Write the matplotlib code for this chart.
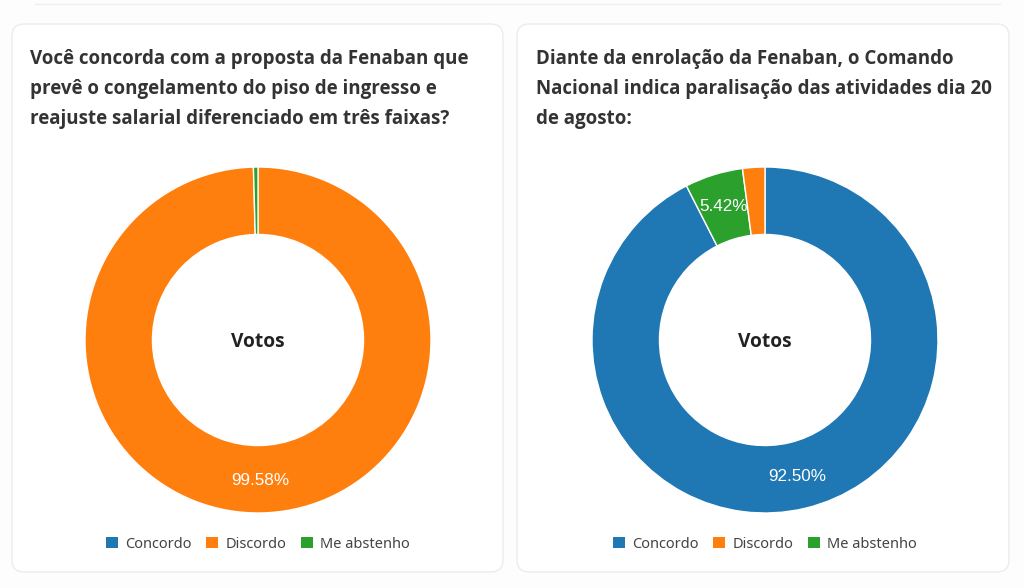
import matplotlib
matplotlib.use("Agg")
import matplotlib.pyplot as plt
from matplotlib.patches import FancyBboxPatch, Patch
from matplotlib import font_manager

W, H = 1024, 588

labels = ["Concordo", "Discordo", "Me abstenho"]
colors = ["#1f77b4", "#ff7f0e", "#2ca02c"]

# left chart: clockwise from top
left_title = ("Você concorda com a proposta da Fenaban que\n"
              "prevê o congelamento do piso de ingresso e\n"
              "reajuste salarial diferenciado em três faixas?")
left_vals = [0.0, 99.58, 0.42]          # Concordo, Discordo, Me abstenho
left_order = [0, 1, 2]

# right chart: slices drawn clockwise as Concordo, Me abstenho, Discordo
right_title = ("Diante da enrolação da Fenaban, o Comando\n"
               "Nacional indica paralisação das atividades dia 20\n"
               "de agosto:")
right_vals = [92.50, 2.08, 5.42]        # Concordo, Discordo, Me abstenho
right_order = [0, 2, 1]

# pick a sans family that really has a bold face
BOLD_FAM = "DejaVu Sans"
for fam in ["Noto Sans", "Open Sans", "Lato", "Roboto"]:
    try:
        f = font_manager.findfont(font_manager.FontProperties(family=fam, weight="bold"),
                                  fallback_to_default=False)
        if "bold" in f.lower() or "semibold" in f.lower():
            BOLD_FAM = fam
            break
    except Exception:
        pass

fig = plt.figure(figsize=(W / 100, H / 100), dpi=100)
fig.patch.set_facecolor("#fdfdfd")


def px(x, y):
    # pixel coords (top-left origin) -> figure fraction
    return x / W, 1 - y / H


def card(x0, y0, x1, y1):
    l, t = px(x0, y0)
    r, b = px(x1, y1)
    p = FancyBboxPatch((l, b), r - l, t - b,
                       boxstyle="round,pad=0,rounding_size=0.012",
                       transform=fig.transFigure, facecolor="white",
                       edgecolor="#ececec", linewidth=1.0,
                       mutation_aspect=W / H, zorder=-5)
    fig.patches.append(p)


def pct_fmt(v):
    return "%.2f%%" % v if v >= 3 else ""


def donut(cx, cy, vals, order, title, tx):
    R = 173
    l, b = px(cx - R, cy + R)
    ax = fig.add_axes([l, b, 2 * R / W, 2 * R / H], zorder=2)
    ax.patch.set_alpha(0)
    v = [vals[i] for i in order]
    c = [colors[i] for i in order]
    wedges, _, autotexts = ax.pie(
        v, colors=c, startangle=90, counterclock=False, radius=1,
        autopct=pct_fmt, pctdistance=0.81,
        wedgeprops=dict(width=0.39, edgecolor="white", linewidth=1.0),
        textprops=dict(color="white", fontsize=12.3, family="Liberation Sans"))
    ax.set_xlim(-1, 1)
    ax.set_ylim(-1, 1)
    ax.text(0, -0.012, "Votos", ha="center", va="center", fontsize=13.8,
            fontweight="bold", color="#222222", family=BOLD_FAM)
    x, y = px(tx, 49)
    fig.text(x, y, title, ha="left", va="top", fontsize=13.5,
             fontweight="bold", color="#333333", family=BOLD_FAM,
             linespacing=1.66)
    handles = [Patch(facecolor=colors[i], edgecolor="none") for i in range(3)]
    lx, ly = px(cx, 544)
    fig.legend(handles, labels, loc="center", bbox_to_anchor=(lx, ly),
               ncol=3, frameon=False, handlelength=0.8, handleheight=0.8,
               handletextpad=0.5, columnspacing=1.0,
               prop=dict(family="Noto Sans", size=10.5), labelcolor="#444444")


card(12, 24, 503, 572)
card(517, 24, 1009, 572)
fig.add_artist(plt.Line2D([35 / W, 1000 / W], [1 - 4 / H, 1 - 4 / H],
                          transform=fig.transFigure, color="#eeeeee", lw=1))

donut(258, 340, left_vals, left_order, left_title, 30)
donut(765, 340, right_vals, right_order, right_title, 536)

fig.savefig("out.png", dpi=100, facecolor=fig.get_facecolor())
